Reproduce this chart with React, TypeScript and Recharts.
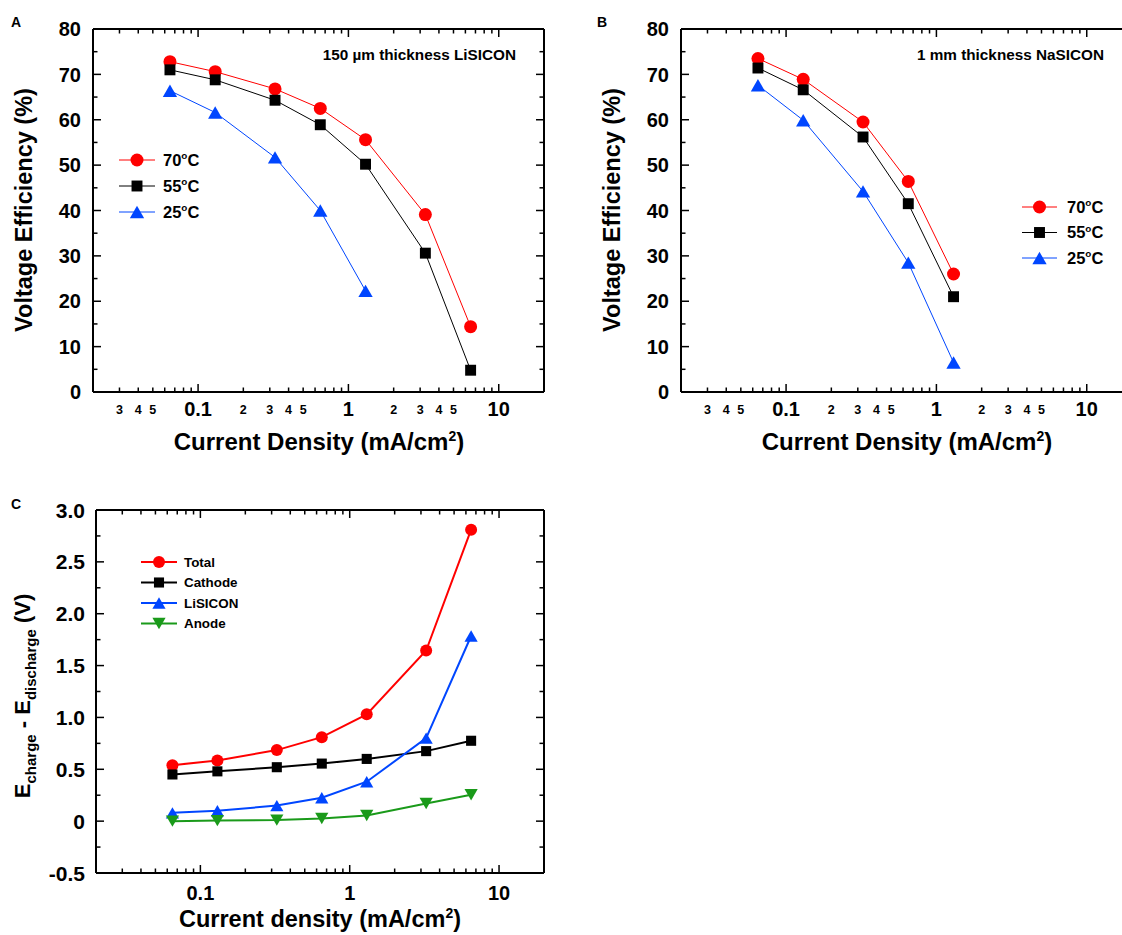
import { Line, LineChart, XAxis, YAxis } from "recharts";

const FONT = "'Liberation Sans', Arial, Helvetica, sans-serif";
const RED = "#ff0000";
const BLACK = "#000000";
const BLUE = "#0046ff";
const GREEN = "#1a9a1a";

// current density (mA/cm2)
const currentA = [0.065, 0.13, 0.325, 0.65, 1.3, 3.25, 6.5];
const currentB = [0.065, 0.13, 0.325, 0.65, 1.3];
const currentC = [0.065, 0.13, 0.325, 0.65, 1.3, 3.25, 6.5];

// A: 150 um LiSICON, voltage efficiency (%)
const effA70 = [72.8, 70.6, 66.8, 62.5, 55.6, 39.1, 14.4];
const effA55 = [71.0, 68.8, 64.3, 58.9, 50.2, 30.6, 4.8];
const effA25 = [66.4, 61.6, 51.7, 40.0, 22.3];

// B: 1 mm NaSICON, voltage efficiency (%)
const effB70 = [73.5, 68.9, 59.5, 46.4, 26.0];
const effB55 = [71.4, 66.6, 56.2, 41.5, 21.0];
const effB25 = [67.6, 59.9, 44.2, 28.5, 6.5];

// C: E_charge - E_discharge (V)
const dvTotal = [0.54, 0.585, 0.685, 0.81, 1.03, 1.645, 2.81];
const dvCathode = [0.45, 0.48, 0.52, 0.555, 0.6, 0.675, 0.775];
const dvLisicon = [0.08, 0.1, 0.15, 0.225, 0.38, 0.8, 1.785];
const dvAnode = [0, 0.005, 0.01, 0.025, 0.055, 0.17, 0.255];

// ticks
const logTicks = [0.02, 0.03, 0.04, 0.05, 0.06, 0.07, 0.08, 0.09, 0.1, 0.2, 0.3, 0.4, 0.5, 0.6, 0.7, 0.8, 0.9, 1, 2, 3, 4, 5, 6, 7, 8, 9, 10, 20];
const logMajor = [0.1, 1, 10];
const logMinorLabeled = [0.03, 0.04, 0.05, 0.2, 0.3, 0.4, 0.5, 2, 3, 4, 5];
const effTicks = [0, 5, 10, 15, 20, 25, 30, 35, 40, 45, 50, 55, 60, 65, 70, 75, 80];
const effLabeled = [0, 10, 20, 30, 40, 50, 60, 70, 80];
const dvTicks = [-0.5, -0.25, 0, 0.25, 0.5, 0.75, 1, 1.25, 1.5, 1.75, 2, 2.25, 2.5, 2.75, 3];
const dvLabeled = [-0.5, 0, 0.5, 1, 1.5, 2, 2.5, 3];

type Shape = "circle" | "square" | "up" | "down";
type Series = { name: string; xs: number[]; ys: number[]; color: string; shape: Shape };

const seriesA: Series[] = [
  { name: "70", xs: currentA, ys: effA70, color: RED, shape: "circle" },
  { name: "55", xs: currentA, ys: effA55, color: BLACK, shape: "square" },
  { name: "25", xs: currentA, ys: effA25, color: BLUE, shape: "up" },
];
const seriesB: Series[] = [
  { name: "70", xs: currentB, ys: effB70, color: RED, shape: "circle" },
  { name: "55", xs: currentB, ys: effB55, color: BLACK, shape: "square" },
  { name: "25", xs: currentB, ys: effB25, color: BLUE, shape: "up" },
];
const seriesC: Series[] = [
  { name: "Total", xs: currentC, ys: dvTotal, color: RED, shape: "circle" },
  { name: "Cathode", xs: currentC, ys: dvCathode, color: BLACK, shape: "square" },
  { name: "LiSICON", xs: currentC, ys: dvLisicon, color: BLUE, shape: "up" },
  { name: "Anode", xs: currentC, ys: dvAnode, color: GREEN, shape: "down" },
];

const pts = (xs: number[], ys: number[]) => ys.map((y, i) => ({ x: xs[i], y }));
const near = (arr: number[], v: number) => arr.some((a) => Math.abs(a - v) < 1e-9);

function logLabel(v: number) {
  if (near(logMajor, v)) return String(v);
  const p = Math.pow(10, Math.floor(Math.log10(v) + 1e-9));
  return String(Math.round(v / p));
}

function Marker({ shape, x, y, size, color }: { shape: Shape; x: number; y: number; size: number; color: string }) {
  if (shape === "circle") return <circle cx={x} cy={y} r={size / 2} fill={color} />;
  if (shape === "square") return <rect x={x - size * 0.42} y={y - size * 0.42} width={size * 0.84} height={size * 0.84} fill={color} />;
  const w = size * 1.1;
  const h = size * 0.95;
  if (shape === "up") return <polygon points={`${x},${y - h / 2} ${x - w / 2},${y + h / 2} ${x + w / 2},${y + h / 2}`} fill={color} />;
  return <polygon points={`${x},${y + h / 2} ${x - w / 2},${y - h / 2} ${x + w / 2},${y - h / 2}`} fill={color} />;
}

function xTick(side: "bottom" | "top", labelMinor: boolean, labelGap: number) {
  return (p: any) => {
    const v = p.payload.value;
    const major = near(logMajor, v);
    const len = major ? 8 : 4.5;
    const sgn = side === "bottom" ? -1 : 1;
    let text: string | null = null;
    if (side === "bottom") {
      if (major) text = logLabel(v);
      else if (labelMinor && near(logMinorLabeled, v)) text = logLabel(v);
    }
    return (
      <g>
        <line x1={p.x} x2={p.x} y1={p.y} y2={p.y + sgn * len} stroke="#000" strokeWidth={1.5} />
        {text && (
          <text x={p.x} y={p.y + labelGap} dy="0.36em" textAnchor="middle" fontFamily={FONT} fontWeight="bold" fontSize={major ? 20 : 12.5} fill="#000">
            {text}
          </text>
        )}
      </g>
    );
  };
}

function yTick(side: "left" | "right", labeled: number[], fmt: (v: number) => string, fontSize: number, gap: number) {
  return (p: any) => {
    const v = p.payload.value;
    const major = near(labeled, v);
    const len = major ? 8 : 4.5;
    const sgn = side === "left" ? 1 : -1;
    return (
      <g>
        <line x1={p.x} x2={p.x + sgn * len} y1={p.y} y2={p.y} stroke="#000" strokeWidth={1.5} />
        {side === "left" && major && (
          <text x={p.x - gap} y={p.y} dy="0.36em" textAnchor="end" fontFamily={FONT} fontWeight="bold" fontSize={fontSize} fill="#000">
            {fmt(v)}
          </text>
        )}
      </g>
    );
  };
}

type PanelProps = {
  left: number;
  top: number;
  width: number;
  series: Series[];
  yDomain: [number, number];
  yTicks: number[];
  yLabeled: number[];
  yFmt: (v: number) => string;
  yFont: number;
  yGap: number;
  labelMinor: boolean;
  xGap: number;
  lineWidth: number;
  markerSize: number;
};

function Panel(props: PanelProps) {
  const { left, top, width, series, yDomain, yTicks, yLabeled, yFmt, yFont, yGap, labelMinor, xGap, lineWidth, markerSize } = props;
  const axisLine = { stroke: "#000", strokeWidth: 2 };
  return (
    <div style={{ position: "absolute", left, top }}>
      <LineChart width={width} height={470} margin={{ top: 19, right: 6, bottom: 38, left: 33 }}>
        <XAxis xAxisId="b" orientation="bottom" type="number" dataKey="x" scale="log" domain={[0.02, 20]} allowDataOverflow ticks={logTicks} interval={0} height={40} tickSize={0} tickMargin={0} tickLine={false} axisLine={axisLine} tick={xTick("bottom", labelMinor, xGap)} />
        <XAxis xAxisId="t" orientation="top" type="number" dataKey="x" scale="log" domain={[0.02, 20]} allowDataOverflow ticks={logTicks} interval={0} height={10} tickSize={0} tickMargin={0} tickLine={false} axisLine={axisLine} tick={xTick("top", false, 0)} />
        <YAxis yAxisId="l" orientation="left" type="number" domain={yDomain} allowDataOverflow ticks={yTicks} interval={0} width={60} tickSize={0} tickMargin={0} tickLine={false} axisLine={axisLine} tick={yTick("left", yLabeled, yFmt, yFont, yGap)} />
        <YAxis yAxisId="r" orientation="right" type="number" domain={yDomain} allowDataOverflow ticks={yTicks} interval={0} width={10} tickSize={0} tickMargin={0} tickLine={false} axisLine={axisLine} tick={yTick("right", yLabeled, yFmt, yFont, yGap)} />
        <Line xAxisId="t" yAxisId="r" data={pts(series[0].xs, series[0].ys)} dataKey="y" stroke="none" dot={false} activeDot={false} isAnimationActive={false} legendType="none" />
        {series.map((s) => (
          <Line
            key={s.name}
            xAxisId="b"
            yAxisId="l"
            data={pts(s.xs, s.ys)}
            dataKey="y"
            name={s.name}
            stroke={s.color}
            strokeWidth={lineWidth}
            dot={(p: any) => <Marker key={p.index} shape={s.shape} x={p.cx} y={p.cy} size={markerSize} color={s.color} />}
            activeDot={false}
            isAnimationActive={false}
          />
        ))}
      </LineChart>
    </div>
  );
}

function LegendRow({ s, x1, x2, y, tx, fontSize, lineWidth, markerSize, degree }: { s: Series; x1: number; x2: number; y: number; tx: number; fontSize: number; lineWidth: number; markerSize: number; degree: boolean }) {
  return (
    <g>
      <line x1={x1} x2={x2} y1={y} y2={y} stroke={s.color} strokeWidth={lineWidth} />
      <Marker shape={s.shape} x={(x1 + x2) / 2} y={y} size={markerSize} color={s.color} />
      <text x={tx} y={y + fontSize * 0.36} fontSize={fontSize} fill="#000">
        {degree ? (
          <>
            {s.name}
            <tspan fontSize={fontSize * 0.6} dy={-fontSize * 0.42}>o</tspan>
            <tspan dy={fontSize * 0.42}>C</tspan>
          </>
        ) : (
          s.name
        )}
      </text>
    </g>
  );
}

function Overlay() {
  return (
    <svg width={1122} height={935} style={{ position: "absolute", left: 0, top: 0, pointerEvents: "none" }}>
      <g fontFamily={FONT} fontWeight="bold" fill="#000">
        {/* panel letters */}
        <text x={11} y={27} fontSize={14}>A</text>
        <text x={597} y={27} fontSize={14}>B</text>
        <text x={11} y={509} fontSize={14}>C</text>

        {/* panel A */}
        <text x={516} y={60} fontSize={15.3} textAnchor="end">150 µm thickness LiSICON</text>
        {seriesA.map((s, i) => (
          <LegendRow key={s.name} s={s} x1={119} x2={155} y={160 + i * 26} tx={163} fontSize={16.5} lineWidth={1} markerSize={13} degree />
        ))}
        <text transform="translate(32,210) rotate(-90)" textAnchor="middle" fontSize={23.5}>Voltage Efficiency (%)</text>
        <text x={319} y={450} textAnchor="middle" fontSize={24}>
          Current Density (mA/cm<tspan fontSize={14} dy={-9}>2</tspan>
          <tspan dy={9}>)</tspan>
        </text>

        {/* panel B */}
        <text x={1104} y={60} fontSize={15.3} textAnchor="end">1 mm thickness NaSICON</text>
        {seriesB.map((s, i) => (
          <LegendRow key={s.name} s={s} x1={1022} x2={1057} y={207 + i * 25.5} tx={1067} fontSize={16.5} lineWidth={1} markerSize={13} degree />
        ))}
        <text transform="translate(620,210) rotate(-90)" textAnchor="middle" fontSize={23.5}>Voltage Efficiency (%)</text>
        <text x={907} y={450} textAnchor="middle" fontSize={24}>
          Current Density (mA/cm<tspan fontSize={14} dy={-9}>2</tspan>
          <tspan dy={9}>)</tspan>
        </text>

        {/* panel C */}
        {seriesC.map((s, i) => (
          <LegendRow key={s.name} s={s} x1={141} x2={177} y={562 + i * 20.5} tx={184} fontSize={13.4} lineWidth={2} markerSize={12} degree={false} />
        ))}
        <text transform="translate(30,696) rotate(-90)" textAnchor="middle" fontSize={22}>
          E<tspan fontSize={15} dy={6}>charge</tspan>
          <tspan dy={-6}> - E</tspan>
          <tspan fontSize={15} dy={6}>discharge</tspan>
          <tspan dy={-6}> (V)</tspan>
        </text>
        <text x={320} y={927} textAnchor="middle" fontSize={23.5}>
          Current density (mA/cm<tspan fontSize={14} dy={-9}>2</tspan>
          <tspan dy={9}>)</tspan>
        </text>
      </g>
    </svg>
  );
}

const fmtEff = (v: number) => String(v);
const fmtDv = (v: number) => (v === 0 ? "0" : v.toFixed(1));

export default function App() {
  return (
    <div style={{ position: "absolute", left: 0, top: 0, width: 1122, height: 935, overflow: "hidden", background: "#fff" }}>
      <Panel left={0} top={0} width={560} series={seriesA} yDomain={[0, 80]} yTicks={effTicks} yLabeled={effLabeled} yFmt={fmtEff} yFont={20} yGap={12} labelMinor xGap={17} lineWidth={1} markerSize={13} />
      <Panel left={588} top={0} width={560} series={seriesB} yDomain={[0, 80]} yTicks={effTicks} yLabeled={effLabeled} yFmt={fmtEff} yFont={20} yGap={12} labelMinor xGap={17} lineWidth={1} markerSize={13} />
      <Panel left={3} top={481} width={557} series={seriesC} yDomain={[-0.5, 3]} yTicks={dvTicks} yLabeled={dvLabeled} yFmt={fmtDv} yFont={21} yGap={11} labelMinor={false} xGap={20} lineWidth={2} markerSize={12} />
      <Overlay />
    </div>
  );
}
